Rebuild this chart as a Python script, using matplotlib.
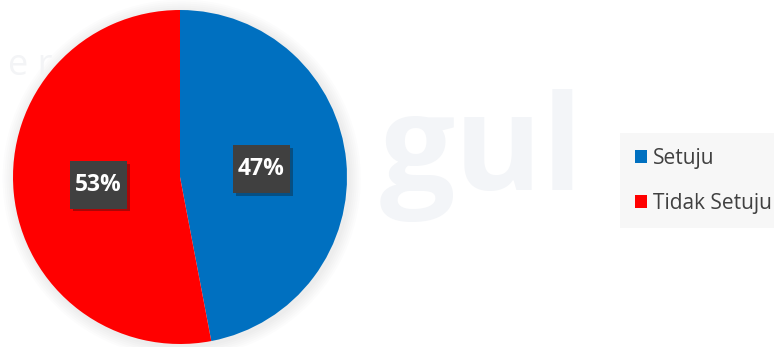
import matplotlib
matplotlib.use("Agg")
import matplotlib.pyplot as plt
from matplotlib.patches import Circle
from matplotlib.path import Path
import matplotlib.patheffects as pe

# --- data ---
categories = ["Setuju", "Tidak Setuju"]
values = [47, 53]
colors = ["#0070c0", "#ff0000"]

W, H = 774, 347
fig = plt.figure(figsize=(W / 100, H / 100), dpi=100)
fig.patch.set_facecolor("white")

# faint watermark behind the chart
fig.text(380 / W, 1 - 190 / H, "gul", fontsize=96, fontweight="bold",
         family="Open Sans", color="#f3f5f8", ha="left", va="baseline", zorder=0)
fig.text(8 / W, 1 - 75 / H, "e r", fontsize=26, family="Open Sans",
         color="#f3f4f6", ha="left", va="baseline", zorder=0)

# pie axes: center (180, 177) px, radius 167 px
cx, cy, r = 180, 177, 167
ax = fig.add_axes([(cx - r) / W, (H - cy - r) / H, 2 * r / W, 2 * r / H])
ax.patch.set_alpha(0)

# soft glow/shadow around the pie
for i in range(6):
    ax.add_patch(Circle((0.01, -0.01), 1.0 + 0.012 * (i + 1), facecolor="#a0a6ae",
                        edgecolor="none", alpha=0.03, zorder=0, clip_on=False))

wedges, texts, autotexts = ax.pie(
    values, colors=colors, startangle=90, counterclock=False, radius=1.0,
    autopct=lambda p: f"{p:.0f}%", pctdistance=0.49,
    wedgeprops=dict(linewidth=0, zorder=1),
    textprops=dict(color="white", fontsize=16.5, fontweight="bold", family="Open Sans"))
ax.set_xlim(-1, 1); ax.set_ylim(-1, 1); ax.set_aspect("equal")
ax.axis("off")


def label_box(x0, y0, width, height, mutation_size):
    # data-label box: a bit taller than a plain square pad
    px, py = 0.22 * mutation_size, 0.52 * mutation_size
    x0, y0 = x0 - px, y0 - py
    x1, y1 = x0 + width + 2 * px, y0 + height + 2 * py
    return Path([(x0, y0), (x1, y0), (x1, y1), (x0, y1), (x0, y0)], closed=True)


for t in autotexts:
    t.set_bbox(dict(boxstyle=label_box, facecolor="#404040", edgecolor="none"))
    t.get_bbox_patch().set_path_effects(
        [pe.SimplePatchShadow(offset=(2, -2), alpha=0.35), pe.Normal()])

leg = fig.legend(wedges, categories, loc="upper left",
                 bbox_to_anchor=(620 / W, 1 - 133 / H), borderaxespad=0,
                 frameon=True, fancybox=False, facecolor="#f7f7f7", edgecolor="none",
                 framealpha=1, prop=dict(family="Open Sans", size=15),
                 labelcolor="#404040", handlelength=0.6, handleheight=0.6,
                 handletextpad=0.3, labelspacing=1.15, borderpad=0.7)

fig.savefig("out.png", dpi=100)
